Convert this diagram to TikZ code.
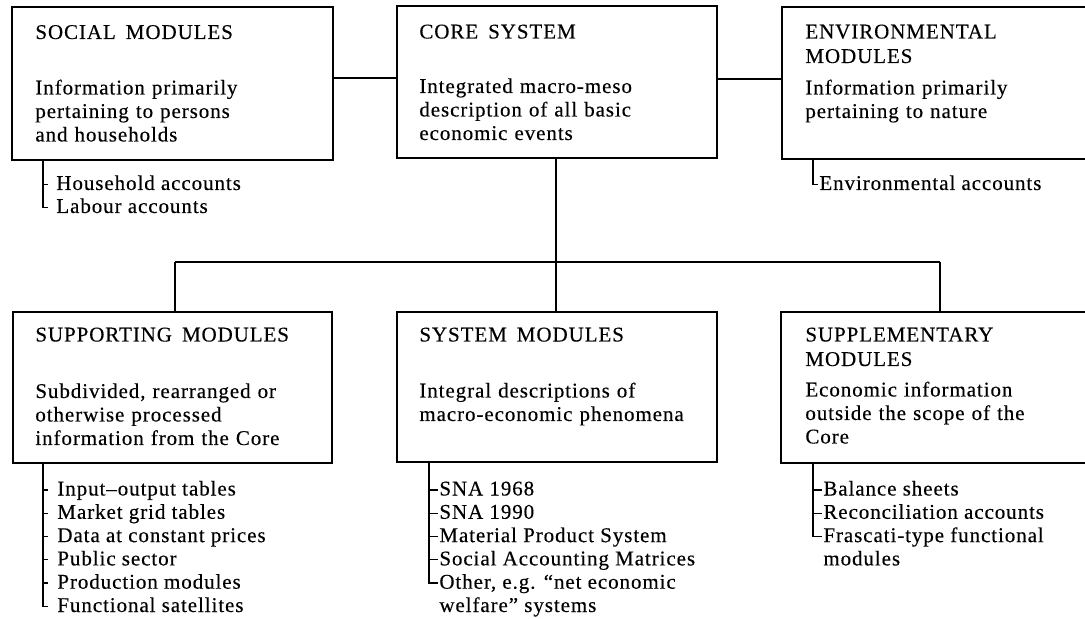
\documentclass[tikz,border=0pt]{standalone}
\usepackage{fontspec}
\setmainfont{Liberation Serif}[LetterSpace=4.4,FakeBold=0.3]
\usetikzlibrary{fit}
\newcommand{\hs}{\hspace{5pt}}
\begin{document}
\begin{tikzpicture}[x=0.5pt,y=-0.5pt,
  box/.style={draw, line width=0.65pt, inner sep=0pt},
  corebox/.style={draw, line width=1.2pt, inner sep=0pt},
  txt/.style={inner sep=0pt, anchor=base west, font=\fontsize{10.5}{11.75}\selectfont},
  para/.style={txt, text width=250pt, align=left},
  headpara/.style={para, font=\fontsize{10.5}{12.25}\selectfont},
  conn/.style={line width=0.65pt},
]
\useasboundingbox (0,0) rectangle (1085,619);
\clip (0,0) rectangle (1085,619);

% boxes
\node[box, fit={(12,7) (333,160)}] (social) {};
\node[corebox, fit={(397,6) (717,158)}] (core) {};
\node[box, fit={(782,7) (1100,159)}] (env) {};
\node[box, fit={(13,312) (332,463)}] (support) {};
\node[box, fit={(397,312) (717,462)}] (sysmod) {};
\node[box, fit={(781,312) (1100,463)}] (supp) {};

% box texts
\node[txt] (socialh) at (35,39) {SOCIAL\hs MODULES};
\node[para] (socialb) at (35,94.5) {Information primarily\\pertaining to persons\\and households};

\node[txt] (coreh) at (419,38.5) {CORE\hs SYSTEM};
\node[para] (coreb) at (419,93) {Integrated macro-meso\\description of all basic\\economic events};

\node[headpara] (envh) at (805,38.5) {ENVIRONMENTAL\\MODULES};
\node[para] (envb) at (805,94.5) {Information primarily\\pertaining to nature};

\node[txt] (supporth) at (35,341.5) {SUPPORTING\hs MODULES};
\node[para] (supportb) at (35,398) {Subdivided, rearranged or\\otherwise processed\\information from the Core};

\node[txt] (sysmodh) at (419,341.5) {SYSTEM\hs MODULES};
\node[para] (sysmodb) at (419,397.5) {Integral descriptions of\\macro-economic phenomena};

\node[headpara] (supph) at (805,341.5) {SUPPLEMENTARY\\MODULES};
\node[para] (suppb) at (805,396.5) {Economic information\\outside the scope of the\\Core};

% connectors
\coordinate (hl) at (365,78);
\coordinate (hr) at (750,79);
\draw[conn] (social.east |- hl) -- (core.west |- hl);
\draw[conn] (core.east |- hr) -- (env.west |- hr);
\coordinate (jl) at (175,262);
\coordinate (jc) at (556,262);
\coordinate (jr) at (940,262);
\draw[conn] (core.south -| jc) -- (jc);
\draw[conn] (jl) -- (jr);
\draw[conn] (jl) -- (support.north -| jl);
\draw[conn] (jc) -- (sysmod.north -| jc);
\draw[conn] (jr) -- (supp.north -| jr);

% social list
\node[txt] (s1) at (56,190) {Household accounts};
\node[txt] (s2) at (56,213) {Labour accounts};
\coordinate (sbx) at (43,0);
\coordinate (st1) at ([yshift=2.8pt]s1.base west);
\coordinate (st2) at ([yshift=2.8pt]s2.base west);
\draw[conn] (st1 -| sbx) -- ++(5,0);
\draw[conn] (social.south -| sbx) |- (st2 -| sbx) -- ++(5,0);

% environmental list
\node[txt] (e1) at (819,190) {Environmental accounts};
\coordinate (ebx) at (813,0);
\coordinate (et1) at ([yshift=2.8pt]e1.base west);
\draw[conn] (env.south -| ebx) |- ([xshift=-0.5pt]et1);

% supporting list
\node[txt] (p1) at (57,495.5) {Input–output tables};
\node[txt] (p2) at (57,518.8) {Market grid tables};
\node[txt] (p3) at (57,542.1) {Data at constant prices};
\node[txt] (p4) at (57,565.4) {Public sector};
\node[txt] (p5) at (57,588.7) {Production modules};
\node[txt] (p6) at (57,612) {Functional satellites};
\coordinate (pbx) at (43,0);
\foreach \i in {1,...,5} {
  \coordinate (pt\i) at ([yshift=2.8pt]p\i.base west);
  \draw[conn] (pt\i -| pbx) -- ++(5,0);
}
\coordinate (pt6) at ([yshift=2.8pt]p6.base west);
\draw[conn] (support.south -| pbx) |- (pt6 -| pbx) -- ++(5,0);

% system list
\node[txt] (y1) at (439,495.5) {SNA 1968};
\node[txt] (y2) at (439,518.8) {SNA 1990};
\node[txt] (y3) at (439,542.1) {Material Product System};
\node[txt] (y4) at (439,565.4) {Social Accounting Matrices};
\node[txt] (y5) at (439,588.7) {Other, e.g. “net economic};
\node[txt] (y6) at (439,612) {welfare” systems};
\coordinate (ybx) at (429,0);
\foreach \i in {1,...,4} {
  \coordinate (yt\i) at ([yshift=2.8pt]y\i.base west);
  \draw[conn] (yt\i -| ybx) -- ([xshift=-0.5pt]yt\i);
}
\coordinate (yt5) at ([yshift=2.8pt]y5.base west);
\draw[conn] (sysmod.south -| ybx) |- ([xshift=-0.5pt]yt5);

% supplementary list
\node[txt] (u1) at (823,495.5) {Balance sheets};
\node[txt] (u2) at (823,518.8) {Reconciliation accounts};
\node[txt] (u3) at (823,542.1) {Frascati-type functional};
\node[txt] (u4) at (823,565.4) {modules};
\coordinate (ubx) at (813,0);
\foreach \i in {1,2} {
  \coordinate (ut\i) at ([yshift=2.8pt]u\i.base west);
  \draw[conn] (ut\i -| ubx) -- ([xshift=-0.5pt]ut\i);
}
\coordinate (ut3) at ([yshift=2.8pt]u3.base west);
\draw[conn] (supp.south -| ubx) |- ([xshift=-0.5pt]ut3);
\end{tikzpicture}
\end{document}
